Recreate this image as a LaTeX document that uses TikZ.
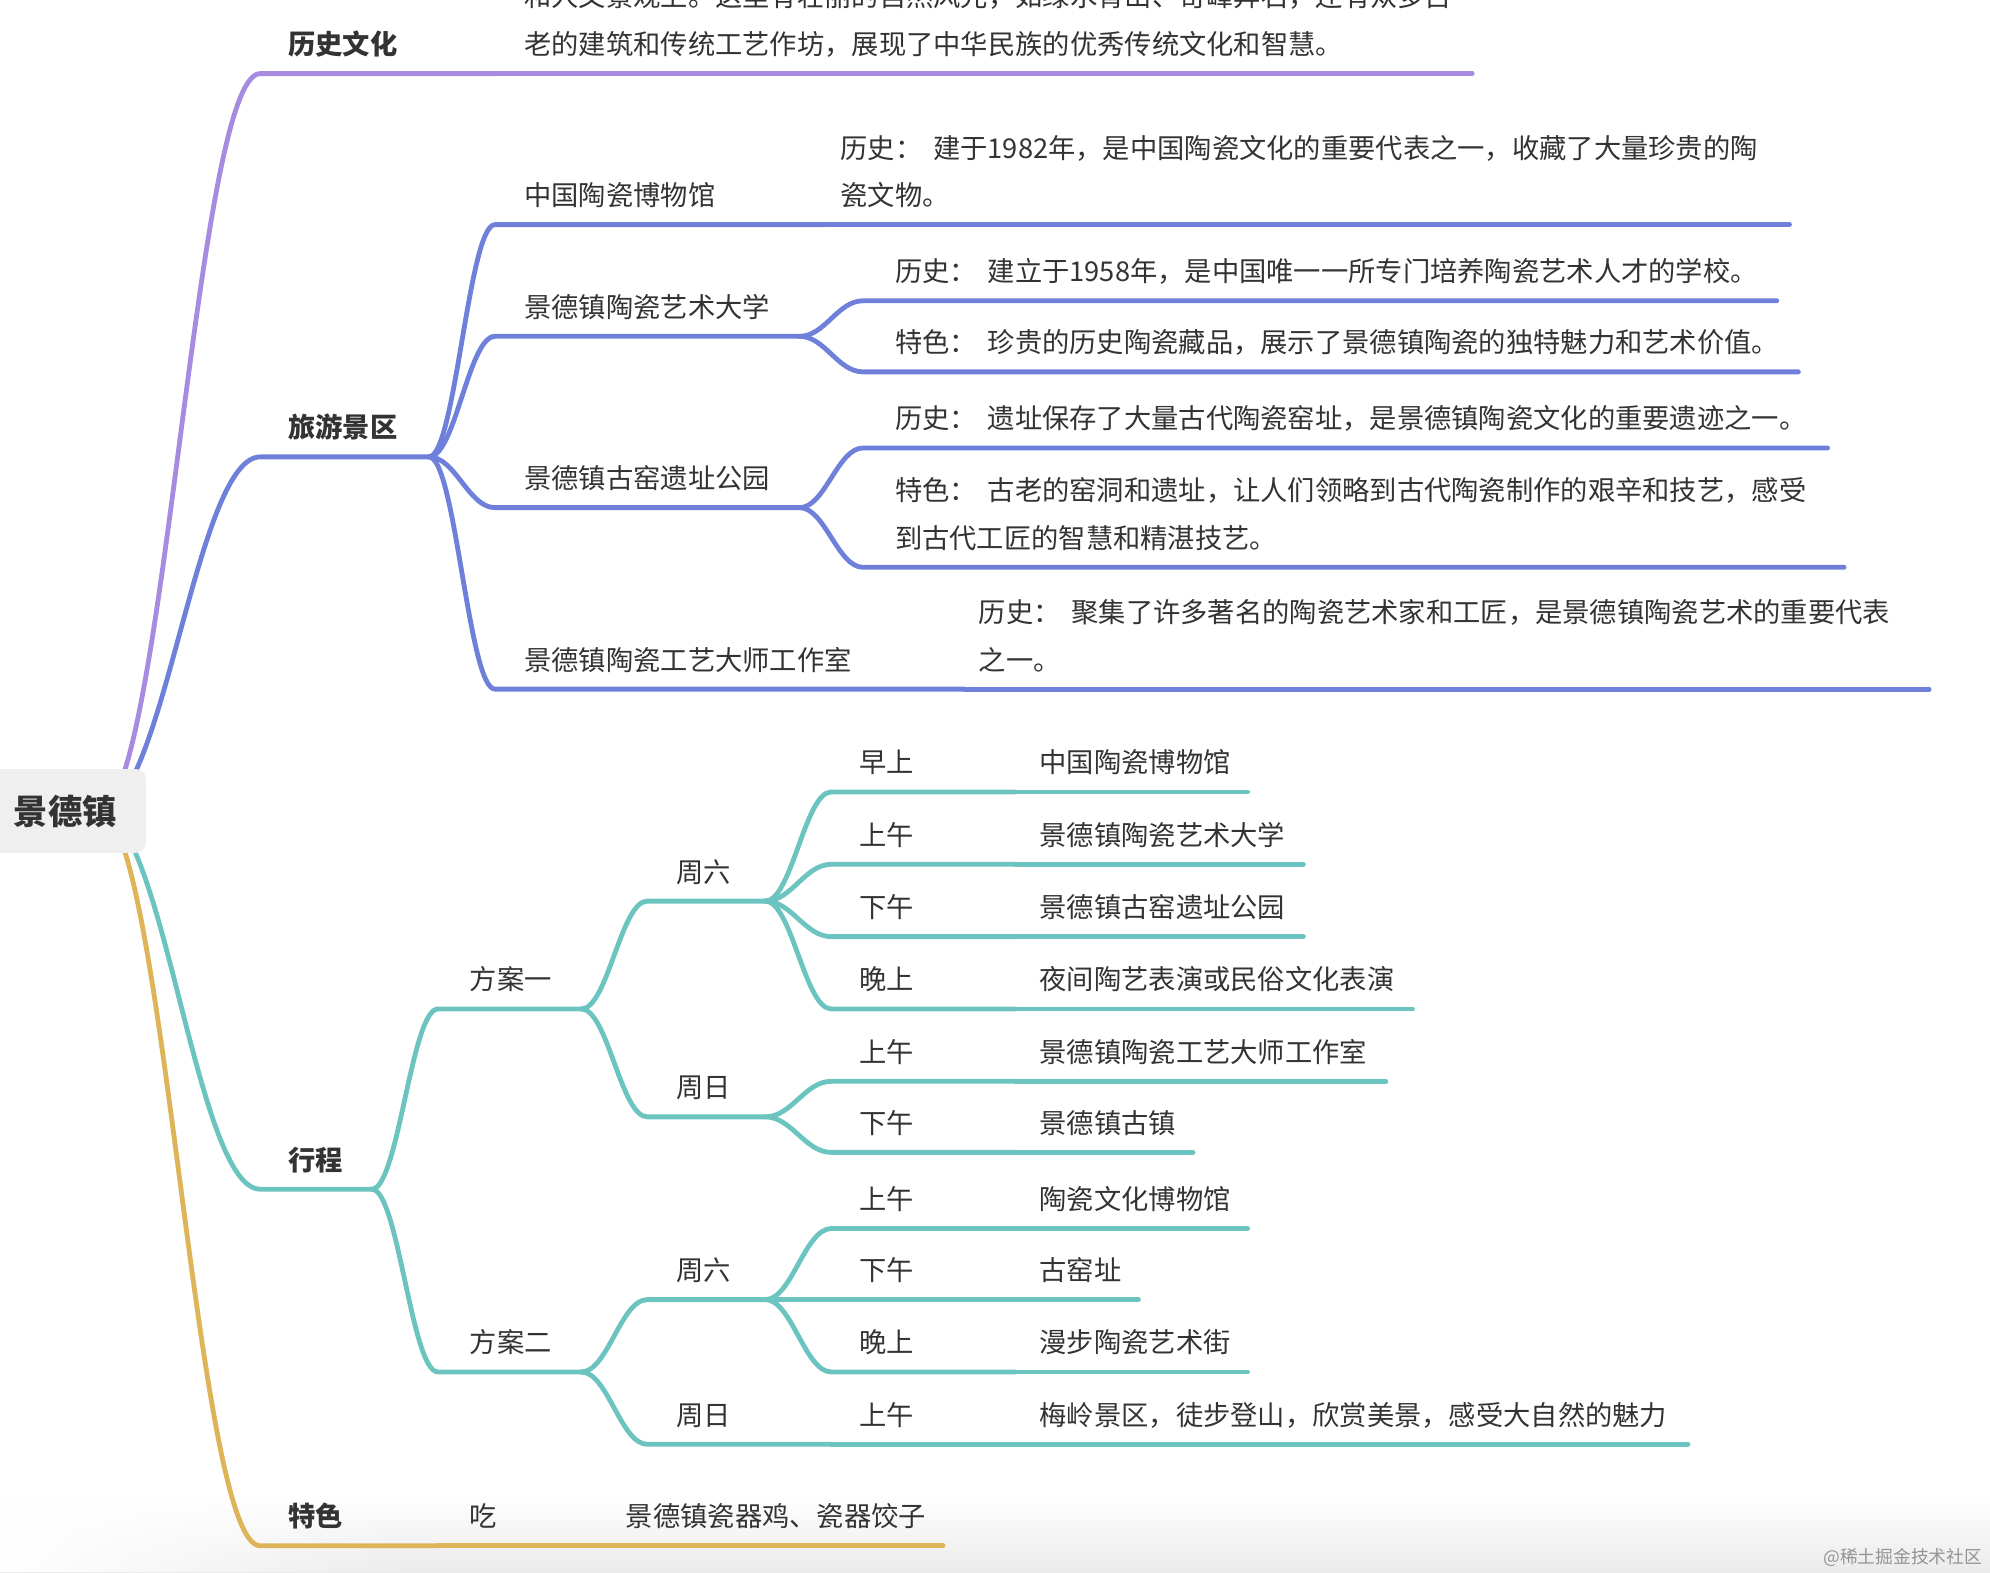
\documentclass[tikz,border=0pt]{standalone}
\usepackage{fontspec}
\setmainfont{Noto Sans CJK SC}
\usetikzlibrary{calc,fadings}
\definecolor{cpur}{HTML}{A68BE0}
\definecolor{cblu}{HTML}{6E80D9}
\definecolor{ctea}{HTML}{6CC4C1}
\definecolor{cgol}{HTML}{DEB459}
\definecolor{ctxt}{HTML}{333333}
\definecolor{croot}{HTML}{EFEFEF}
\pgfdeclarelayer{bg}
\pgfsetlayers{bg,main}
\newcommand\gp{\hspace{0.4em}}
% name, line start x, line end x, line y, text x, text
\newcommand\mmnode[7][lbl]{%
  \coordinate (#2s) at (#3,#5);
  \coordinate (#2e) at (#4,#5);
  \node[#1] (#2) at (#6,#5-15) {#7};}
% curved connector from parent end to child start, then underline of child
\newcommand\mmedge[3]{%
  \draw[conn,#1] let \p1=(#2e), \p2=(#3s) in
    (\p1) .. controls ({\x1+0.4*(\x2-\x1)},\y1) and ({\x1+0.6*(\x2-\x1)},\y2) .. (\p2) -- (#3e);}
% straight continuation
\newcommand\mmline[3]{\draw[conn,#1] (#2e) -- (#3e);}
\begin{document}
\begin{tikzpicture}[x=1pt,y=-1pt,
  lbl/.style={inner sep=0pt, anchor=base west, text=ctxt, font=\fontsize{21.5}{25}\selectfont},
  hd/.style={lbl, font=\fontsize{21.5}{25}\selectfont\bfseries},
  conn/.style={line width=3.8pt, line cap=round, line join=round}]
\useasboundingbox (0,0) rectangle (1568,1239);

% root
\node[fill=croot, rounded corners=8pt, minimum width=127pt, minimum height=66pt,
      inner sep=0pt, text=ctxt, font=\fontsize{27}{30}\selectfont\bfseries] (root) at (51.5,639) {景德镇};
\coordinate (roote) at (78,639);

% 历史文化
\mmnode[hd]{ls}{205}{390}{58}{227}{历史文化}
\mmnode{lst}{390}{1160}{58}{413}{老的建筑和传统工艺作坊，展现了中华民族的优秀传统文化和智慧。}
\node[lbl] (lsta) at (413,5.5) {和人文景观上。这里有壮丽的自然风光，如绿水青山、奇峰异石，还有众多古};

% 旅游景区
\mmnode[hd]{ly}{205}{338}{360}{227}{旅游景区}
\mmnode{ya}{390}{650}{177}{413}{中国陶瓷博物馆}
\mmnode{yat}{650}{1410}{177}{662}{瓷文物。}
\node[lbl] (yata) at (662,124.5) {历史：\gp 建于1982年，是中国陶瓷文化的重要代表之一，收藏了大量珍贵的陶};
\mmnode{yb}{390}{630}{265}{413}{景德镇陶瓷艺术大学}
\mmnode{yba}{680}{1400}{237}{705}{历史：\gp 建立于1958年，是中国唯一一所专门培养陶瓷艺术人才的学校。}
\mmnode{ybb}{680}{1417}{293}{705}{特色：\gp 珍贵的历史陶瓷藏品，展示了景德镇陶瓷的独特魅力和艺术价值。}
\mmnode{yc}{390}{630}{400}{413}{景德镇古窑遗址公园}
\mmnode{yca}{680}{1440}{353}{705}{历史：\gp 遗址保存了大量古代陶瓷窑址，是景德镇陶瓷文化的重要遗迹之一。}
\mmnode{ycb}{680}{1453}{447}{705}{到古代工匠的智慧和精湛技艺。}
\node[lbl] (ycbt) at (705,394.5) {特色：\gp 古老的窑洞和遗址，让人们领略到古代陶瓷制作的艰辛和技艺，感受};
\mmnode{yd}{390}{760}{543}{413}{景德镇陶瓷工艺大师工作室}
\mmnode{ydt}{760}{1520}{543}{771}{之一。}
\node[lbl] (ydta) at (771,490.5) {历史：\gp 聚集了许多著名的陶瓷艺术家和工匠，是景德镇陶瓷艺术的重要代表};

% 行程
\mmnode[hd]{xc}{205}{293}{937}{227}{行程}
\mmnode{pa}{345}{458}{795}{370}{方案一}
\mmnode{paa}{510}{603}{710}{533}{周六}
\mmnode{paa1}{655}{800}{624}{677}{早上}
\mmnode{paa1t}{800}{983}{624}{819}{中国陶瓷博物馆}
\mmnode{paa2}{655}{800}{681}{677}{上午}
\mmnode{paa2t}{800}{1027}{681}{819}{景德镇陶瓷艺术大学}
\mmnode{paa3}{655}{800}{738}{677}{下午}
\mmnode{paa3t}{800}{1027}{738}{819}{景德镇古窑遗址公园}
\mmnode{paa4}{655}{800}{795}{677}{晚上}
\mmnode{paa4t}{800}{1113}{795}{819}{夜间陶艺表演或民俗文化表演}
\mmnode{pab}{510}{603}{880}{533}{周日}
\mmnode{pab1}{655}{800}{852}{677}{上午}
\mmnode{pab1t}{800}{1092}{852}{819}{景德镇陶瓷工艺大师工作室}
\mmnode{pab2}{655}{800}{908}{677}{下午}
\mmnode{pab2t}{800}{940}{908}{819}{景德镇古镇}
\mmnode{pb}{345}{458}{1081}{370}{方案二}
\mmnode{pba}{510}{603}{1024}{533}{周六}
\mmnode{pba1}{655}{800}{968}{677}{上午}
\mmnode{pba1t}{800}{983}{968}{819}{陶瓷文化博物馆}
\mmnode{pba2}{655}{800}{1024}{677}{下午}
\mmnode{pba2t}{800}{897}{1024}{819}{古窑址}
\mmnode{pba3}{655}{800}{1081}{677}{晚上}
\mmnode{pba3t}{800}{983}{1081}{819}{漫步陶瓷艺术街}
\mmnode{pbb}{510}{655}{1138}{533}{周日}
\mmnode{pbb1}{655}{800}{1138}{677}{上午}
\mmnode{pbb1t}{800}{1330}{1138}{819}{梅岭景区，徒步登山，欣赏美景，感受大自然的魅力}

% 特色
\mmnode[hd]{ts}{205}{345}{1218}{227}{特色}
\mmnode{tc}{345}{470}{1218}{370}{吃}
\mmnode{tct}{470}{743}{1218}{493}{景德镇瓷器鸡、瓷器饺子}

% watermark
\node[inner sep=0pt, anchor=base east, text=black!42, font=\fontsize{14}{16}\selectfont] (wm) at (1562,1232) {@稀土掘金技术社区};

\begin{pgfonlayer}{bg}
\fill[white] (0,0) rectangle (1568,1239);
% soft bottom shadow
\shade[top color=white, bottom color=black!8] (0,1178) rectangle (1568,1239);
\fill[white, path fading=east] (0,1170) rectangle (330,1239);
% root branches
\mmedge{cpur}{root}{ls}
\mmedge{cblu}{root}{ly}
\mmedge{ctea}{root}{xc}
\mmedge{cgol}{root}{ts}
% 历史文化
\mmline{cpur}{ls}{lst}
% 旅游景区
\mmedge{cblu}{ly}{ya}
\mmline{cblu}{ya}{yat}
\mmedge{cblu}{ly}{yb}
\mmedge{cblu}{yb}{yba}
\mmedge{cblu}{yb}{ybb}
\mmedge{cblu}{ly}{yc}
\mmedge{cblu}{yc}{yca}
\mmedge{cblu}{yc}{ycb}
\mmedge{cblu}{ly}{yd}
\mmline{cblu}{yd}{ydt}
% 行程
\mmedge{ctea}{xc}{pa}
\mmedge{ctea}{pa}{paa}
\mmedge{ctea}{paa}{paa1}\mmline{ctea}{paa1}{paa1t}
\mmedge{ctea}{paa}{paa2}\mmline{ctea}{paa2}{paa2t}
\mmedge{ctea}{paa}{paa3}\mmline{ctea}{paa3}{paa3t}
\mmedge{ctea}{paa}{paa4}\mmline{ctea}{paa4}{paa4t}
\mmedge{ctea}{pa}{pab}
\mmedge{ctea}{pab}{pab1}\mmline{ctea}{pab1}{pab1t}
\mmedge{ctea}{pab}{pab2}\mmline{ctea}{pab2}{pab2t}
\mmedge{ctea}{xc}{pb}
\mmedge{ctea}{pb}{pba}
\mmedge{ctea}{pba}{pba1}\mmline{ctea}{pba1}{pba1t}
\mmedge{ctea}{pba}{pba2}\mmline{ctea}{pba2}{pba2t}
\mmedge{ctea}{pba}{pba3}\mmline{ctea}{pba3}{pba3t}
\mmedge{ctea}{pb}{pbb}
\mmline{ctea}{pbb}{pbb1}\mmline{ctea}{pbb1}{pbb1t}
% 特色
\mmline{cgol}{ts}{tc}
\mmline{cgol}{tc}{tct}
\end{pgfonlayer}
\end{tikzpicture}
\end{document}
